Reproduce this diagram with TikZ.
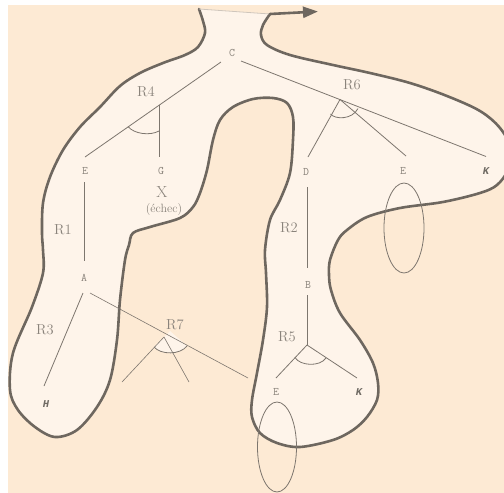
\documentclass[tikz,border=0pt]{standalone}
\usepackage{fontspec}
\newfontfamily\monof{Liberation Mono}
\usetikzlibrary{arrows.meta,calc}
\definecolor{bgout}{HTML}{FDEAD4}
\definecolor{bgin}{HTML}{FEF4EA}
\definecolor{outl}{HTML}{6E675F}
\definecolor{treel}{HTML}{7D766E}
\definecolor{txt}{HTML}{8A837B}
\definecolor{faint}{HTML}{CFC6BC}
\begin{document}
\begin{tikzpicture}[x=1pt,y=-1pt,
  lbl/.style={font=\ttfamily\fontsize{11.5}{11.5}\selectfont, text=txt, inner sep=0pt},
  blbl/.style={font=\monof\bfseries\itshape\fontsize{10.5}{10.5}\selectfont, text=txt!80!black, inner sep=0pt},
  rl/.style={font=\fontsize{14.5}{14.5}\selectfont, text=txt, inner sep=0pt},
  br/.style={draw=treel, line width=0.8pt},
  angarc/.style={draw=treel, line width=0.8pt},
  rim/.style={draw=outl, line width=2.6pt, line join=round, line cap=round},
  ell/.style={draw=treel, line width=0.8pt},
]
\useasboundingbox (0,0) rectangle (504,493);
\fill[white] (0,0) rectangle (504,493);
\fill[bgout] (8,5) rectangle (504,493);
\begin{scope}
\clip (8,5) rectangle (504,493);
\def\shape{(270,14) (263,25) (261,35) (267,45) (290,55) (333,65) (370,73) (410,83) (447,96) (480,111) (500,128) (512,150) (508,170) (497,185) (480,193) (443,202) (400,208) (367,217) (347,230) (338,240) (330,260) (329,275) (331,290) (340,313) (360,340) (373,363) (378,383) (377,400) (367,417) (353,430) (333,440) (300,447) (277,443) (260,433) (252,417) (252,400) (257,373) (263,340) (267,307) (266,273) (265,250) (270,220) (280,200) (290,173) (293,140) (293,117) (287,103) (273,98) (253,99) (233,107) (220,120) (213,140) (207,170) (200,193) (193,207) (180,218) (150,227) (133,233) (129,245) (125,260) (120,300) (117,340) (110,380) (97,407) (77,430) (55,437) (35,427) (18,410) (10,390) (13,353) (32,307) (43,273) (43,250) (42,233) (43,203) (50,177) (63,150) (80,127) (100,107) (120,86) (140,73) (163,63) (185,55) (198,47) (205,33) (203,21) (199,9)}
\fill[bgin] plot[smooth, tension=0.55] coordinates {\shape} -- cycle;
\draw[rim] plot[smooth, tension=0.55] coordinates {\shape};
\end{scope}
% top faint edge and arrow
\coordinate (nl) at (199,9);
\coordinate (nr) at (270,14);
\coordinate (tip) at (318,11.5);
\draw[faint, line width=0.8pt] (nl) -- (nr);
\draw[outl, line width=2.6pt, line cap=round, -{Triangle[length=15pt,width=11pt]}] (nr) -- (tip);

% labels
\node[lbl] (C) at (232,53) {C};
\node[lbl] (E1) at (85,171) {E};
\node[lbl] (G) at (161,171) {G};
\node[font=\fontsize{16}{16}\selectfont, text=txt, inner sep=0pt] (X) at (162,192) {X};
\node[font=\fontsize{12}{12}\selectfont, text=txt, inner sep=0pt] (ech) at (164,210) {(échec)};
\node[lbl] (A) at (84,278) {A};
\node[blbl] (H) at (46,404) {H};
\node[lbl] (D) at (306,172) {D};
\node[lbl] (E2) at (403,171) {E};
\node[blbl] (K1) at (486,171) {K};
\node[lbl] (B) at (308,285) {B};
\node[lbl] (E3) at (276,392) {E};
\node[blbl] (K2) at (359,392) {K};
\node[rl] (R4) at (146,92) {R4};
\node[rl] (R6) at (352,85) {R6};
\node[rl] (R1) at (63,230) {R1};
\node[rl] (R2) at (289,228) {R2};
\node[rl] (R3) at (45,330) {R3};
\node[rl] (R5) at (287,337) {R5};

% line ends
\coordinate (cl) at (221,62);
\coordinate (cr) at (241,61);
\coordinate (e1t) at (85,157);
\coordinate (J4) at (159,104.5);
\coordinate (gt) at (159,157);
\coordinate (e1b) at (84,182);
\coordinate (at) at (84,261);
\coordinate (J6) at (340,99.5);
\coordinate (k1t) at (486,156.5);
\coordinate (dt) at (308,157);
\coordinate (e2t) at (406,156);
\coordinate (db) at (307,187);
\coordinate (bt) at (307,268);
\coordinate (bb) at (307,295);
\coordinate (J5) at (307,345);
\coordinate (e3t) at (276,378);
\coordinate (k2t) at (357,378);
\coordinate (ab1) at (83,293);
\coordinate (ht) at (44,386);
\coordinate (ab2) at (90,293);
\coordinate (r7e) at (248,378);
\coordinate (J7) at (164,337);
\coordinate (r7a) at (122,382);
\coordinate (r7b) at (189,382);

% R7 light wedge
\fill[bgin] (J7) -- (170,331) -- (187,346) .. controls (180,355) and (161,355) .. (154,347) -- cycle;

% branches
\draw[br] (cl) -- (e1t);
\draw[br] (J4) -- (gt);
\draw[angarc] (128,126.5) .. controls (134,134) and (150,136) .. (159,131);
\draw[br] (e1b) -- (at);
\draw[br] (cr) -- (k1t);
\draw[br] (J6) -- (dt);
\draw[br] (J6) -- (e2t);
\draw[angarc] (330.5,114) .. controls (335,119.5) and (352,120) .. (358,108.5);
\draw[br] (db) -- (bt);
\draw[br] (bb) -- (J5);
\draw[br] (J5) -- (e3t);
\draw[br] (J5) -- (k2t);
\draw[angarc] (295,357.5) .. controls (300,366) and (320,367) .. (326,358);
\draw[br] (ab1) -- (ht);
\draw[br, line width=0.6pt] (ab2) -- (r7e);
\draw[br, line width=0.6pt] (J7) -- (r7a);
\draw[br, line width=0.6pt] (J7) -- (r7b);
\draw[angarc] (154,347) .. controls (161,355) and (180,355) .. (187,346);
\node[rl] (R7) at (175,325) {R7};

% ellipses
\draw[ell] (404,228) ellipse [x radius=20, y radius=45];
\draw[ell] (277,447) ellipse [x radius=19.5, y radius=45];
\end{tikzpicture}
\end{document}
